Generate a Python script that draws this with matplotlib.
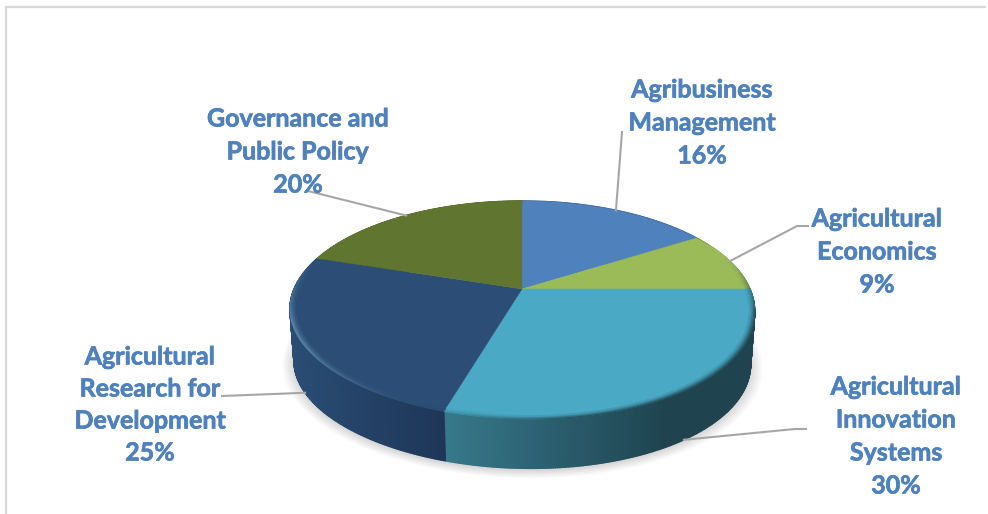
#!/usr/bin/env python3
import numpy as np
import matplotlib
matplotlib.use("Agg")
import matplotlib.pyplot as plt
import matplotlib.patheffects as pe
from matplotlib.colors import to_rgb

# ---------------- data ----------------
names = [
    ["Agribusiness", "Management"],
    ["Agricultural", "Economics"],
    ["Agricultural", "Innovation", "Systems"],
    ["Agricultural", "Research for", "Development"],
    ["Governance and", "Public Policy"],
]
values = [16, 9, 30, 25, 20]
top_colors = ["#4f81bd", "#9bbb59", "#4aaac5", "#2c4d75", "#5f7530"]

# side wall colours, left end and right end of each slice
wall_left = ["#3a5f8c", "#6e8a3d", "#37798c", "#28496f", "#46571f"]
wall_right = ["#3a5f8c", "#6e8a3d", "#1f4450", "#1e3658", "#46571f"]

text_color = "#4f81bd"
line_color = "#a6a6a6"

# ---------------- pie geometry, pixels with a simple perspective ----------------
cx, cy = 522, 289
k = 0.193
top_a, top_b = 105, 228
bot_a, bot_b = 102, 224
bot_dy = 53
skew = 9  # front of the disc leans a little to the right


def project(theta, a, b, dy=0.0, scale=1.0):
    # theta runs clockwise from 12 o'clock
    X = np.sin(theta) * scale
    Y = np.cos(theta) * scale
    d = 1 + k * Y
    return cx + b * X / d + skew * np.minimum(Y, 0) ** 2, cy + dy - a * Y / d


def top_pt(theta, scale=1.0):
    return project(theta, top_a, top_b, 0.0, scale)


def bot_pt(theta, scale=1.0):
    return project(theta, bot_a, bot_b, bot_dy, scale)


def mix(c1, c2, t):
    c1, c2 = np.array(to_rgb(c1)), np.array(to_rgb(c2))
    return tuple(c1 + (c2 - c1) * t)


fractions = np.array(values) / sum(values)
edges = np.concatenate([[0], np.cumsum(fractions)]) * 2 * np.pi

fig = plt.figure(figsize=(9.88, 5.14), dpi=100)
ax = fig.add_axes([0, 0, 1, 1])
ax.set_xlim(0, 988)
ax.set_ylim(514, 0)
ax.axis("off")

# chart frame, only top and left show
ax.plot([5.5, 5.5, 985], [514, 7, 7], color="#d9d9d9", lw=1.6, zorder=1,
        solid_joinstyle="miter")

# ---------------- soft shadow under the pie ----------------
ring = np.linspace(0, 2 * np.pi, 361)
for i in range(14):
    s = 1.05 - i * 0.004
    sx, sy = bot_pt(ring, s)
    ax.fill(sx, sy + 2, color="black", alpha=0.012, lw=0, zorder=2)

# ---------------- side wall, shaded in thin strips ----------------
for i in range(len(values)):
    th = np.linspace(edges[i], edges[i + 1], max(int(values[i] * 8), 2))
    xt0, _ = top_pt(th[0])
    xt1, _ = top_pt(th[-1])
    for j in range(len(th) - 1):
        pair = th[j:j + 2]
        xa, ya = top_pt(pair)
        xb, yb = bot_pt(pair)
        # gradient runs from x at slice start toward a flat tone on the right
        t = (xa[0] - min(xt0, xt1)) / abs(xt0 - xt1)
        if i == 2:
            t = min(t / 0.72, 1)
        col = mix(wall_left[i], wall_right[i], t)
        ax.fill([xa[0], xa[1], xb[1], xb[0]], [ya[0], ya[1], yb[1], yb[0]],
                color=col, lw=1.0, zorder=3)

# ---------------- top face ----------------
for i in range(len(values)):
    th = np.linspace(edges[i], edges[i + 1], 120)
    x, y = top_pt(th)
    ax.fill(np.r_[cx, x], np.r_[cy, y], color=top_colors[i], lw=0.3, zorder=4)

# ---------------- bevel along the rim ----------------
bevel_steps = 5
for i in range(len(values)):
    th = np.linspace(edges[i], edges[i + 1], max(int(values[i] * 6), 4))
    for s in range(bevel_steps):
        s0 = 1.0 - s * 0.0045
        s1 = s0 - 0.0045
        fade = 1 - s / bevel_steps
        for j in range(len(th) - 1):
            mid = 0.5 * (th[j] + th[j + 1])
            # light from the left: dark on the right front, pale on the left front
            light = np.clip((np.pi * 1.15 - mid) / 0.6, -1, 1) * -1
            front = np.clip(-np.cos(mid) * 1.8 + 0.5, 0, 1)
            if mid < 0.35 * np.pi:
                continue
            if light < 0:
                col = mix(top_colors[i], "#1f4450", -light * fade * front * 0.85)
            else:
                col = mix(top_colors[i], "#9fe0f2", light * fade * front * 0.4)
            pair = th[j:j + 2]
            xo, yo = top_pt(pair, s0)
            xi, yi = top_pt(pair, s1)
            ax.fill([xo[0], xo[1], xi[1], xi[0]], [yo[0], yo[1], yi[1], yi[0]],
                    color=col, lw=0.6, zorder=5)

# ---------------- leader lines ----------------
mids = 0.5 * (edges[:-1] + edges[1:])
bends = [
    [(622, 132)],
    [(797, 226), (808, 226)],
    [(795, 429), (806, 429)],
    [(222, 396)],
    [(308, 191)],
]
on_wall = [False, False, True, True, False]
for i in range(len(values)):
    x0, y0 = bot_pt(mids[i]) if on_wall[i] else top_pt(mids[i])
    xs = [x0] + [p[0] for p in bends[i]]
    ys = [y0] + [p[1] for p in bends[i]]
    ax.plot(xs, ys, color=line_color, lw=1.5, zorder=6)

# ---------------- labels ----------------
label_x = [702, 877, 896, 150, 298]
label_y = [90, 219, 387, 357, 119]
line_gap = [33, 33, 33, 32, 33]
for i in range(len(values)):
    lines = names[i] + [f"{values[i]}%"]
    for n, line in enumerate(lines):
        ax.text(label_x[i], label_y[i] + n * line_gap[i], line, color=text_color,
                family="Lato", fontweight="bold", fontsize=18,
                ha="center", va="center", zorder=7,
                path_effects=[pe.withStroke(linewidth=0.5, foreground=text_color)])

plt.savefig("out.png", dpi=100)
plt.close()
